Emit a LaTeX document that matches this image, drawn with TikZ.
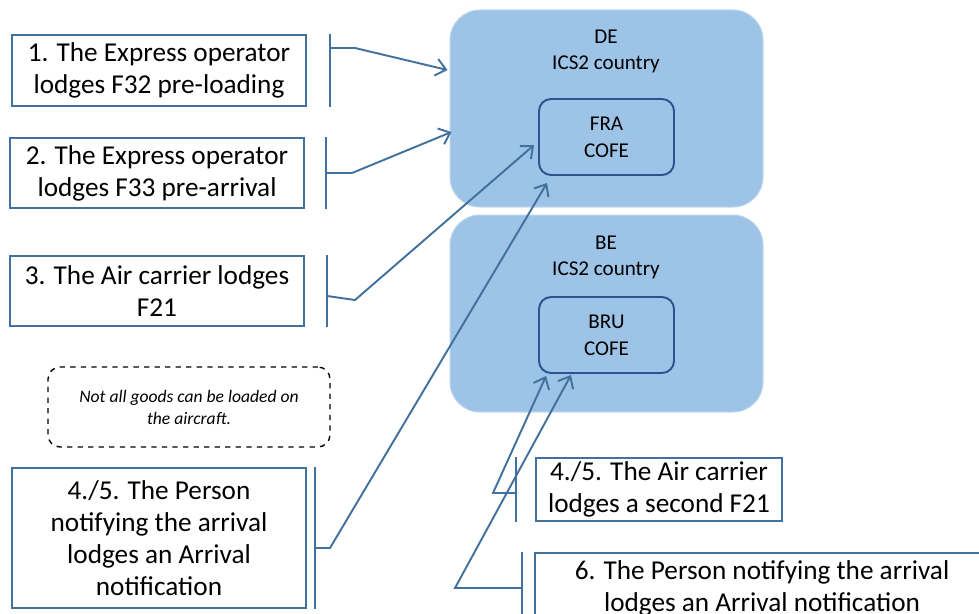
\documentclass[tikz,border=0pt]{standalone}
\usepackage{fontspec}
\setmainfont{Carlito}
\usetikzlibrary{arrows.meta}

\definecolor{boxline}{RGB}{65,113,156}
\definecolor{cofeline}{RGB}{47,82,143}
\definecolor{countryfill}{RGB}{157,195,230}
\definecolor{countryedge}{RGB}{186,212,238}

\tikzset{
	callout/.style={draw=boxline,line width=1.1pt,fill=white,align=center,inner sep=2pt,font=\fontsize{15.5}{18.2}\selectfont},
	country/.style={draw=countryedge,line width=0.6pt,fill=countryfill,rounded corners=0.6cm,minimum width=6.26cm,minimum height=3.94cm},
	cofe/.style={draw=cofeline,line width=1.1pt,fill=countryfill,rounded corners=0.24cm,minimum width=2.7cm,minimum height=1.52cm,align=center,font=\fontsize{12}{15.4}\selectfont},
	bracket/.style={draw=boxline,line width=1.1pt},
	lodge/.style={draw=boxline,line width=1.1pt,->}
}

\begin{document}
\begin{tikzpicture}[x=0.02cm,y=-0.02cm,>={Straight Barb[length=2mm,width=3.4mm]}]
	\useasboundingbox (0,0) rectangle (979,613);
	\clip (0,0) rectangle (979,613);

	% countries
	\node[country] (de) at (606.5,108.5) {};
	\node[country] (be) at (606.5,313.5) {};
	\node[align=center,font=\fontsize{12}{14.8}\selectfont] (detxt) at (606,51) {DE\\ ICS2 country};
	\node[align=center,font=\fontsize{12}{14.8}\selectfont] (betxt) at (606,257) {BE\\ ICS2 country};
	\node[cofe] (fra) at (606.5,137) {FRA\\ COFE};
	\node[cofe] (bru) at (606.5,335) {BRU\\ COFE};

	% filings
	\node[callout,minimum width=5.88cm,minimum height=1.42cm] (f32) at (159,70.5) {1. The Express operator\\ lodges F32 pre-loading};
	\node[callout,minimum width=5.88cm,minimum height=1.4cm] (f33) at (157,173) {2. The Express operator\\ lodges F33 pre-arrival};
	\node[callout,minimum width=5.88cm,minimum height=1.4cm] (f21) at (157,291) {3. The Air carrier lodges\\ F21};
	\node[draw,dashed,line width=0.8pt,rounded corners=0.24cm,minimum width=5.64cm,minimum height=1.6cm,align=center,font=\fontsize{10}{12.5}\selectfont\itshape] (note) at (189,407) {Not all goods can be loaded on\\ the aircraft.};
	\node[callout,minimum width=5.88cm,minimum height=2.8cm] (arr) at (159,538) {4./5. The Person\\ notifying the arrival\\ lodges an Arrival\\ notification};
	\node[callout,minimum width=4.92cm,minimum height=1.26cm] (f21b) at (659,489.5) {4./5. The Air carrier\\ lodges a second F21};
	\node[callout,minimum width=9.08cm,minimum height=1.4cm] (arr2) at (762,588) {6. The Person notifying the arrival\\ lodges an Arrival notification};

	\coordinate (k1) at (330,48);
	\coordinate (k2) at (326,173);
	\coordinate (k3) at (327,296);
	\coordinate (k4) at (315,548);
	\coordinate (k5) at (516,493);
	\coordinate (k6) at (522,588);

	\draw[bracket] (k1 |- f32.north) -- (k1 |- f32.south);
	\draw[bracket] (k2 |- f33.north) -- (k2 |- f33.south);
	\draw[bracket] (k3 |- f21.north) -- (k3 |- f21.south);
	\draw[bracket] (k4 |- arr.north) -- (k4 |- arr.south);
	\draw[bracket] (k5 |- f21b.north) -- (k5 |- f21b.south);
	\draw[bracket] (k6 |- arr2.north) -- (k6 |- arr2.south);

	\draw[lodge] (k1) -- +(25,0) -- ([xshift=-0.04cm,yshift=0.77cm]de.west);
	\draw[lodge] (k2) -- +(26,0) -- ([xshift=0.04cm,yshift=-0.47cm]de.west);
	\draw[lodge] (k3) -- +(28,4) -- ([xshift=-0.08cm,yshift=-0.16cm]fra.west);
	\draw[lodge] (k4) -- +(15,0) -- ([xshift=0.18cm,yshift=-0.14cm]fra.south west);
	\draw[lodge] (k5) -- +(-23,0) -- ([xshift=0.16cm,yshift=-0.04cm]bru.south west);
	\draw[lodge] (k6) -- +(-67,0) -- ([xshift=0.66cm,yshift=-0.02cm]bru.south west);
\end{tikzpicture}
\end{document}
